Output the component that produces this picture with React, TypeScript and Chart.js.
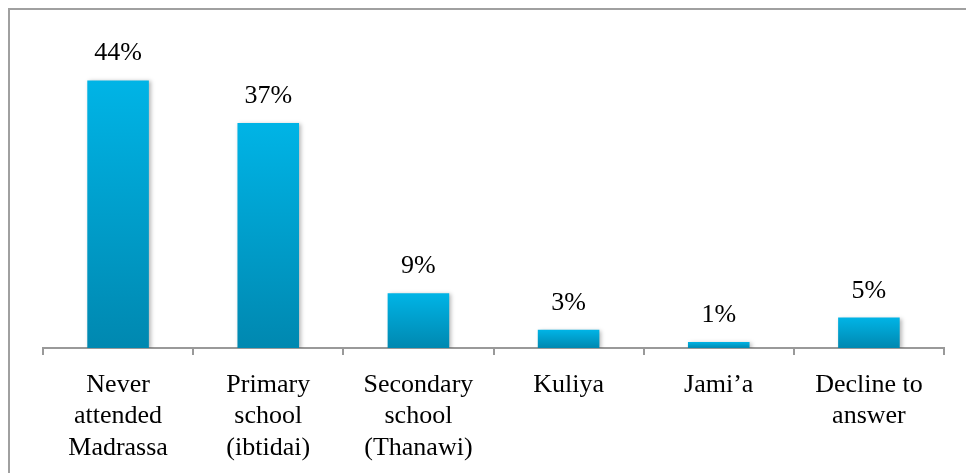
import React, { useEffect, useRef } from "react";
import { Chart, registerables } from "chart.js";

Chart.register(...registerables);

const categories: string[][] = [
  ["Never", "attended", "Madrassa"],
  ["Primary", "school", "(ibtidai)"],
  ["Secondary", "school", "(Thanawi)"],
  ["Kuliya"],
  ["Jami’a"],
  ["Decline to", "answer"],
];
const values: number[] = [44, 37, 9, 3, 1, 5];
const valueLabels: string[] = ["44%", "37%", "9%", "3%", "1%", "5%"];

const FONT = "'Liberation Serif', 'Times New Roman', serif";

const shadowPlugin = {
  id: "barShadow",
  beforeDatasetsDraw(chart: any) {
    const ctx = chart.ctx;
    ctx.save();
    ctx.shadowColor = "rgba(0,0,0,0.28)";
    ctx.shadowBlur = 4;
    ctx.shadowOffsetX = 2;
    ctx.shadowOffsetY = 1;
  },
  afterDatasetsDraw(chart: any) {
    const ctx = chart.ctx;
    ctx.restore();
    ctx.save();
    ctx.font = `26px ${FONT}`;
    ctx.fillStyle = "#000";
    ctx.textAlign = "center";
    ctx.textBaseline = "alphabetic";
    const meta = chart.getDatasetMeta(0);
    meta.data.forEach((el: any, i: number) => {
      ctx.fillText(valueLabels[i], el.x, el.y - 20);
    });
    ctx.restore();
  },
};

export default function App() {
  const ref = useRef<HTMLCanvasElement>(null);
  useEffect(() => {
    if (!ref.current) return;
    const chart = new Chart(ref.current, {
      type: "bar",
      data: {
        labels: categories,
        datasets: [
          {
            data: values,
            categoryPercentage: 1,
            barPercentage: 0.41,
            borderWidth: 0,
            backgroundColor: (c: any) => {
              const chart = c.chart;
              const y = chart.scales?.y;
              if (!y || c.raw === undefined) return "#00a8d8";
              const top = y.getPixelForValue(c.raw);
              const base = y.getPixelForValue(0);
              if (!isFinite(top) || !isFinite(base) || top === base) return "#00a8d8";
              const g = chart.ctx.createLinearGradient(0, top, 0, base);
              g.addColorStop(0, "#00b4e6");
              g.addColorStop(1, "#0088b0");
              return g;
            },
          },
        ],
      },
      options: {
        animation: false,
        responsive: true,
        maintainAspectRatio: false,
        layout: { padding: { left: 33, right: 22, top: 34, bottom: 0 } },
        plugins: { legend: { display: false }, tooltip: { enabled: false } },
        scales: {
          x: {
            afterFit: (s: any) => {
              s.height = 125;
            },
            grid: {
              drawOnChartArea: false,
              drawTicks: true,
              tickLength: 7,
              color: "#999999",
              lineWidth: 2,
            },
            border: { display: true, color: "#999999", width: 2 },
            ticks: {
              color: "#000",
              padding: 14,
              maxRotation: 0,
              autoSkip: false,
              font: { family: FONT, size: 26, lineHeight: 1.22 },
            },
          },
          y: {
            display: false,
            min: 0,
            max: 50,
          },
        },
      },
      plugins: [shadowPlugin],
    });
    return () => chart.destroy();
  }, []);

  return (
    <div
      style={{
        position: "absolute",
        left: 8,
        top: 8,
        width: 958,
        height: 465,
        boxSizing: "border-box",
        borderTop: "2px solid #a0a0a0",
        borderLeft: "2px solid #a0a0a0",
        background: "#fff",
        overflow: "hidden",
      }}
    >
      <div style={{ position: "relative", width: 956, height: 463 }}>
        <canvas ref={ref} />
      </div>
    </div>
  );
}
